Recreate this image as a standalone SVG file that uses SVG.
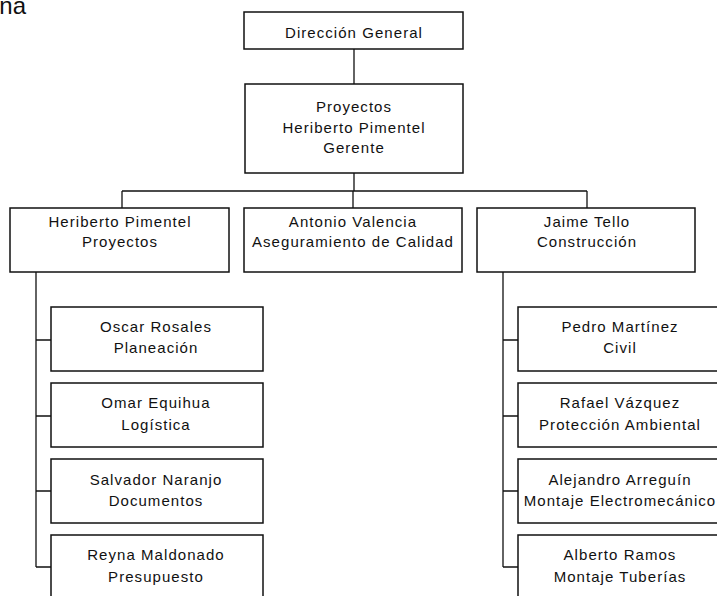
<svg xmlns="http://www.w3.org/2000/svg" width="717" height="596" viewBox="0 0 717 596">
<style>
.box{fill:#fff;stroke:#111;stroke-width:1.5}
.ln{fill:none;stroke:#111;stroke-width:1.3}
text{font-family:"Liberation Sans",Arial,sans-serif;font-size:15px;letter-spacing:1.05px;fill:#111;text-anchor:middle}
.t{font-size:24px;letter-spacing:0;text-anchor:end}
</style>
<rect width="717" height="596" fill="#fff"/>
<text class="t" x="26" y="14">na</text>
<g id="connectors">
<path class="ln" d="M354 49V84M354 173V191M122 191H587M122 191V208M353 191V208M587 191V208"/>
<path class="ln" d="M36 272V567M36 340H51M36 416H51M36 491H51M36 567H51"/>
<path class="ln" d="M503 272V567M503 340H518M503 416H518M503 491H518M503 567H518"/>
</g>
<g id="n-direccion"><rect class="box" x="244" y="12" width="219" height="37"/><text x="354" y="38">Dirección General</text></g>
<g id="n-proyectos"><rect class="box" x="245" y="84" width="218" height="89"/><text x="354" y="112">Proyectos</text><text x="354" y="133">Heriberto Pimentel</text><text x="354" y="153">Gerente</text></g>
<g id="n-heriberto"><rect class="box" x="10" y="208" width="219" height="64"/><text x="120" y="227">Heriberto Pimentel</text><text x="120" y="247">Proyectos</text></g>
<g id="n-antonio"><rect class="box" x="244" y="208" width="218" height="64"/><text x="353" y="227">Antonio Valencia</text><text x="353" y="247">Aseguramiento de Calidad</text></g>
<g id="n-jaime"><rect class="box" x="477" y="208" width="218" height="64"/><text x="587" y="227">Jaime Tello</text><text x="587" y="247">Construcción</text></g>
<g id="n-oscar"><rect class="box" x="51" y="307" width="212" height="64"/><text x="156" y="332">Oscar Rosales</text><text x="156" y="353">Planeación</text></g>
<g id="n-omar"><rect class="box" x="51" y="383" width="212" height="64"/><text x="156" y="408">Omar Equihua</text><text x="156" y="430">Logística</text></g>
<g id="n-salvador"><rect class="box" x="51" y="459" width="212" height="64"/><text x="156" y="485">Salvador Naranjo</text><text x="156" y="506">Documentos</text></g>
<g id="n-reyna"><rect class="box" x="51" y="535" width="212" height="70"/><text x="156" y="560">Reyna Maldonado</text><text x="156" y="582">Presupuesto</text></g>
<g id="n-pedro"><rect class="box" x="518" y="307" width="206" height="64"/><text x="620" y="332">Pedro Martínez</text><text x="620" y="353">Civil</text></g>
<g id="n-rafael"><rect class="box" x="518" y="383" width="206" height="64"/><text x="620" y="408">Rafael Vázquez</text><text x="620" y="430">Protección Ambiental</text></g>
<g id="n-alejandro"><rect class="box" x="518" y="459" width="206" height="64"/><text x="620" y="485">Alejandro Arreguín</text><text x="620" y="506">Montaje Electromecánico</text></g>
<g id="n-alberto"><rect class="box" x="518" y="535" width="206" height="70"/><text x="620" y="560">Alberto Ramos</text><text x="620" y="582">Montaje Tuberías</text></g>
</svg>
